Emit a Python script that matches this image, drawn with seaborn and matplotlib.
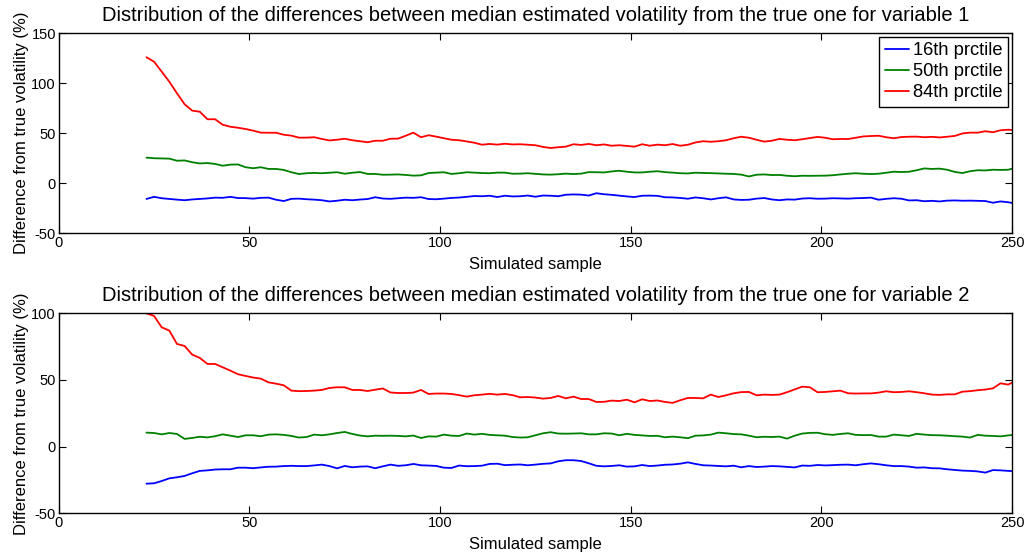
import numpy as np
import pandas as pd
import matplotlib
matplotlib.use("Agg")
import matplotlib.pyplot as plt
import seaborn as sns

# Sample index (every second simulated sample, plus the last one)
samples = list(range(23, 250, 2)) + [250]

# ---------------- Variable 1 ----------------
v1_p16 = [-15.7, -13.6, -15, -15.7, -16.4, -17, -16.2, -15.7, -15.2, -14.4, -14.6, -13.6, -14.8, -14.9, -15.4,
          -14.6, -14.4, -16.5, -17.8, -15.6, -15.4, -16, -16.4, -17, -18.2, -17.5, -16.5, -17, -16.3,
          -15.8, -14, -15.3, -15.6, -15, -14.4, -14.6, -14, -15.8, -16, -15.4, -14.7, -14.3, -13.6, -12.8,
          -13, -12.5, -13.8, -12.5, -13.2, -13, -12.3, -13.5, -12.3, -12.5, -13, -11.5, -11.2, -11.4,
          -12.3, -10, -11, -11.6, -12.4, -13.2, -13.8, -12.5, -12.4, -12.6, -14, -14.2, -14.7, -15.5,
          -14.2, -15, -16.2, -15, -14.1, -16.2, -16.7, -16.5, -15.4, -14.8, -16.2, -17, -16.2, -16.4,
          -15.3, -15, -15.5, -15.4, -15, -15.2, -15.4, -15, -14.8, -14.4, -16.5, -15.6, -15, -15.5, -17.2,
          -17, -18, -17.6, -18.2, -17.4, -17.2, -17.5, -17.4, -17.6, -17.8, -19.5, -18.2, -19, -19.7]
v1_p50 = [25.6, 25, 24.8, 24.6, 22.5, 22.8, 21, 19.8, 20.2, 19.3, 17.5, 18.6, 18.8, 16, 15, 16, 14.3, 14.3,
          13.3, 11, 9.2, 10, 10.3, 10, 10.5, 11, 9.5, 10.5, 11.2,
          9.3, 9.3, 8.5, 8.6, 8.8, 8.3, 7.6, 7.9, 10.2, 10.6, 11, 9.3, 10, 11, 10.6, 10.2, 10, 10.6, 10.6,
          9.5, 9.6, 10, 9.4, 8.8, 8.6, 9, 9.6, 9.2, 9.6,
          11.1, 11, 10.8, 11.8, 12.5, 11.5, 10.8, 10.8, 11.5, 12, 11.1, 10.6, 10, 9.8, 10.5, 10.3, 10.1,
          9.8, 9.5, 9.3, 8.6, 6.8, 8.5, 8.8, 8.2, 8.3, 7.5, 7,
          7.5, 7.4, 7.5, 7.6, 8, 8.8, 9.5, 10, 9.5, 9.2, 9.5, 10.5, 11.5, 11.2, 11.5, 13, 14.8, 14.3, 14.6,
          13.5, 11.3, 10.2, 12, 13, 12.8, 13.5, 13.3, 13.5, 14.5]
v1_p84 = [126, 121.5, 111.6, 101.5, 90, 79, 72.6, 71.5, 64, 64, 58.5, 56.5, 55.5, 54.2, 52.6, 50.6, 50.5,
          50.5, 48.5, 47.6, 45.6, 45.6, 46, 44.3, 42.8, 43.5, 44.5, 43, 42,
          41, 42.5, 42.5, 44.5, 44.6, 47.5, 50.6, 46, 48, 46.6, 45, 43.5, 43, 41.8, 40.5, 38.5, 39.3, 38.6,
          39.5, 38.8, 39, 38.5, 38, 36.3, 35.2, 36, 36.6, 39, 38.3,
          39.3, 38, 38.8, 37.5, 38, 37.3, 36.6, 39, 37.5, 38.6, 38, 39.2, 37.5, 38.5, 40.8, 42, 41.5, 42,
          43, 45, 46.5, 45.5, 43.5, 41.6, 42.5, 44.3, 43.5, 43,
          44, 45.2, 46.3, 45.5, 44, 44.3, 44.2, 45.5, 46.8, 47.2, 47.5, 46, 45, 46.2, 46.5, 46.6, 46, 46.4,
          45.8, 46.5, 47.3, 49.8, 50.6, 50.6, 52, 51, 53, 53.5, 53.3]

# ---------------- Variable 2 ----------------
v2_p16 = [-27.8, -27.5, -25.8, -23.8, -23, -22, -20, -18.2, -17.8, -17.2, -17, -17, -15.8, -15.8, -16.2,
          -15.6, -15.1, -15, -14.6, -14.4, -14.6, -14.6, -14.1, -13.5, -14.6, -16.3, -14.5, -15.5, -15,
          -14.8, -16.2, -14.8, -13.5, -14.4, -14, -13, -14, -14.2, -14.5, -15.8, -16, -14.2, -14.7, -14.6,
          -14.3, -13, -12.8, -13.9, -13.6, -13.4, -14, -13.5, -12.9, -12.6, -11, -10.2, -10.2, -10.8,
          -12.5, -14.4, -14.8, -14.5, -14, -15, -14.8, -13.8, -14.6, -14.2, -13.6, -13.4, -12.8, -11.8,
          -13, -14, -14.2, -14.5, -14.8, -14.3, -15.5, -14.6, -15.3, -15, -14.6, -14.8, -15.2, -15.6,
          -14.2, -14.4, -13.8, -14.1, -13.9, -13.6, -13.5, -14, -13.2, -12.6, -13.2, -14, -14.6, -14.6,
          -15, -15.8, -15.6, -16.2, -16.3, -17, -17.5, -18, -18.2, -18.6, -19.5, -17.6, -17.8, -18.2, -18.3]
v2_p50 = [10.5, 10.2, 9.2, 10.2, 9.5, 5.8, 6.5, 7.4, 6.9, 7.8, 9.2, 8.2, 7.2, 8.5, 8.5, 7.8, 9, 9.2, 8.8,
          8, 6.8, 7.2, 9, 8.5, 9.2, 10.2, 11, 9.5, 8.3,
          7.7, 8.2, 8.1, 8.2, 8, 7.7, 8.3, 6.5, 7.7, 7.5, 9, 8.2, 8, 9.8, 9, 9.6, 8.8, 8.5, 8.2, 7.2, 6.8,
          7, 8.5, 10, 10.8, 9.8, 9.7, 9.8, 10,
          9.2, 9.2, 10, 9.8, 8.5, 9.6, 8.8, 8.4, 8, 8.1, 7, 7.5, 7, 6.3, 8.2, 8.4, 9, 10.5, 10, 9.4, 9.2,
          8.2, 7, 7.4, 7.2, 7.5, 6, 8.2,
          9.8, 10.3, 10.4, 9.3, 8.8, 9.5, 10, 8.8, 8.6, 8.7, 7.5, 7.5, 9, 8.5, 8, 9.6, 9, 8.6, 8.5, 8.2,
          7.8, 7.5, 6.8, 8.8, 8.2, 8, 7.7, 8.4, 8.7]
v2_p84 = [100, 98, 89.5, 87, 77, 75.5, 69, 66.5, 62, 62, 59.5, 57, 54.3, 53, 51.8, 51, 48.2, 47.2, 46, 42,
          41.6, 41.7, 42, 42.5, 44, 44.5, 44.5, 42.5, 42.5,
          41.7, 42.7, 43.6, 40.6, 40.2, 40.2, 40.5, 42.5, 39.5, 39.8, 39.8, 39.5, 38.6, 37.5, 38.5, 39,
          39.6, 39, 39.5, 38.6, 37, 37.2, 36.8, 36, 36.5, 38, 36.2, 37.5, 35.7,
          35.7, 33.5, 33.6, 34.5, 34.2, 35.2, 33.2, 35.5, 34.2, 34.6, 33.5, 32.8, 34.8, 36.5, 36.5, 36.2,
          39, 37.2, 38.5, 40, 40.9, 41, 38.5, 39, 38.8, 39, 40.8, 42.9,
          45, 44.5, 40.8, 41, 41.5, 42, 40, 39.8, 39.9, 39.9, 40.5, 41.5, 40.8, 41, 41.5, 40.8, 40, 39,
          38.8, 39.2, 39.2, 41.2, 41.6, 42.3, 42.8, 43.7, 47.5, 46.5, 48]

series_names = ["16th prctile", "50th prctile", "84th prctile"]
titles = ["Distribution of the differences between median estimated volatility from the true one for variable 1",
          "Distribution of the differences between median estimated volatility from the true one for variable 2"]
ylims = [(-50, 150), (-50, 100)]
yticks = [[-50, 0, 50, 100, 150], [-50, 0, 50, 100]]
xticks = [0, 50, 100, 150, 200, 250]

sns.set_style("ticks")
plt.rcParams["font.family"] = ["Liberation Sans", "DejaVu Sans"]
plt.rcParams["axes.unicode_minus"] = False
plt.rcParams["text.color"] = "black"
plt.rcParams["axes.labelcolor"] = "black"
plt.rcParams["xtick.color"] = "black"
plt.rcParams["ytick.color"] = "black"
plt.rcParams["xtick.labelcolor"] = "black"
plt.rcParams["ytick.labelcolor"] = "black"

palette = {"16th prctile": "#0000ff", "50th prctile": "#008000", "84th prctile": "#ff0000"}

def long_df(p16, p50, p84):
    frames = []
    for name, vals in zip(series_names, [p16, p50, p84]):
        frames.append(pd.DataFrame({"x": samples, "y": vals, "series": name}))
    return pd.concat(frames, ignore_index=True)

data = [long_df(v1_p16, v1_p50, v1_p84), long_df(v2_p16, v2_p50, v2_p84)]

fig = plt.figure(figsize=(10.27, 5.54), dpi=100)
positions = [[0.0572, 0.579, 0.9282, 0.361], [0.0572, 0.0735, 0.9282, 0.361]]

for i in range(2):
    ax = fig.add_axes(positions[i])
    sns.lineplot(data=data[i], x="x", y="y", hue="series", palette=palette,
                 hue_order=series_names, linewidth=1.3, ax=ax, legend=(i == 0))
    ax.set_xlim(0, 250)
    ax.set_ylim(*ylims[i])
    ax.set_xticks(xticks)
    ax.set_yticks(yticks[i])
    ax.tick_params(axis="both", which="both", direction="in", top=True, right=True,
                   labelsize=10.5, length=5, width=0.8, colors="black", labelcolor="black", pad=2)
    for sp in ax.spines.values():
        sp.set_visible(True)
        sp.set_linewidth(1.0)
        sp.set_color("black")
    ax.set_xlabel("Simulated sample", fontsize=12, labelpad=5, color="black")
    ax.set_ylabel("Difference from true volatility (%)", fontsize=12, labelpad=2, color="black")
    ax.set_title(titles[i], fontsize=14.5, pad=9, color="black")
    if i == 0:
        leg = ax.legend(loc="upper right", fontsize=13.2, frameon=True, fancybox=False,
                        edgecolor="black", framealpha=1, borderpad=0.3, labelspacing=0.22,
                        handlelength=1.35, handletextpad=0.2, borderaxespad=0.2)
        leg.get_frame().set_linewidth(1.0)
        for h in leg.get_lines():
            h.set_linewidth(1.3)
        for t in leg.get_texts():
            t.set_color("black")

fig.savefig("out.png", dpi=100)
